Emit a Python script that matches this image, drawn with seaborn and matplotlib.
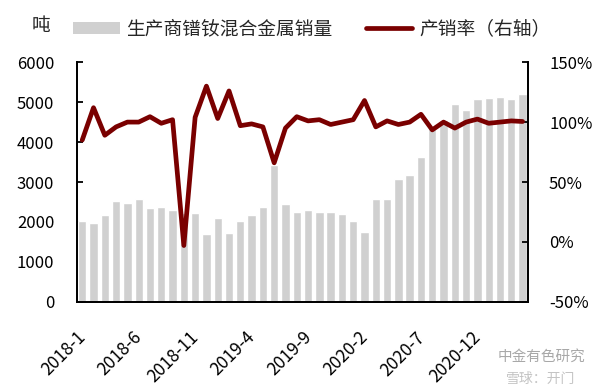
import numpy as np
import pandas as pd
import matplotlib
matplotlib.use('Agg')
import matplotlib.pyplot as plt
import matplotlib.transforms as mtransforms
import seaborn as sns
from matplotlib.patches import Patch
from matplotlib.lines import Line2D

# 月份 2018-1 ~ 2021-4
months = [f'{y}-{m}' for y in (2018, 2019, 2020, 2021) for m in range(1, 13)][:40]

# 生产商镨钕混合金属销量（吨）
sales = [2025, 1967, 2167, 2517, 2475, 2567, 2342, 2375, 2292, 2233,
         2217, 1692, 2092, 1717, 2017, 2167, 2367, 3425, 2458, 2242,
         2308, 2242, 2242, 2208, 2025, 1742, 2567, 2567, 3067, 3167,
         3633, 4350, 4550, 4942, 4792, 5067, 5092, 5117, 5067, 5192]

# 产销率（%）
ratio = [85, 112, 89, 96, 100, 100, 104.5, 99, 102, -3,
         104, 130, 103, 126, 97, 98.5, 96, 66, 95, 104.5,
         101, 102, 98, 100, 102, 118, 96, 101, 98, 100,
         106.5, 93.5, 100, 95, 100, 102.5, 99, 100, 101, 100.5]

tick_labels = ['2018-1', '2018-6', '2018-11', '2019-4', '2019-9', '2020-2', '2020-7', '2020-12']

df = pd.DataFrame({'month': months, 'sales': sales, 'ratio': ratio, 'idx': range(len(months))})

sns.set_style('white')
plt.rcParams['font.family'] = ['Noto Sans CJK SC', 'DejaVu Sans']
plt.rcParams['axes.unicode_minus'] = False

bar_color = '#d0d0d0'
line_color = '#7a0000'

fig = plt.figure(figsize=(6.03, 3.91), dpi=100)
ax = fig.add_axes([0.127, 0.228, 0.749, 0.613])

sns.barplot(data=df, x='month', y='sales', color=bar_color, width=0.74,
            saturation=1, ax=ax)
ax2 = ax.twinx()
sns.lineplot(data=df, x='idx', y='ratio', color=line_color, linewidth=3.4,
             ax=ax2)
ax2.lines[0].set_solid_joinstyle('round')
ax2.lines[0].set_solid_capstyle('round')

ax.set_xlim(-0.5, len(months) - 0.5)
ax.set_ylim(0, 6000)
ax.set_yticks(range(0, 6001, 1000))
ax2.set_ylim(-50, 150)
ax2.set_yticks(range(-50, 151, 50))
ax2.set_yticklabels([f'{v}%' for v in range(-50, 151, 50)])

pos = [i * 5 - 0.5 for i in range(len(tick_labels))] + [len(months) - 0.5]
ax.set_xticks(pos)
ax.set_xticklabels(tick_labels + [''], rotation=45, ha='right', va='top',
                   rotation_mode='anchor', fontsize=12.5)
shift = mtransforms.ScaledTranslation(10 / 100, 0, fig.dpi_scale_trans)
for lab in ax.get_xticklabels():
    lab.set_transform(lab.get_transform() + shift)

ax.set_xlabel('')
ax.set_ylabel('')
ax2.set_xlabel('')
ax2.set_ylabel('')

for a in (ax, ax2):
    a.spines['top'].set_visible(False)
    for s in ('left', 'right', 'bottom'):
        a.spines[s].set_color('black')
        a.spines[s].set_linewidth(1.3)
    a.grid(False)

ax.tick_params(axis='y', direction='in', length=4.5, width=1.3, labelsize=12,
               colors='black', pad=16)
ax.tick_params(axis='x', direction='out', length=5, width=1.3, colors='black',
               pad=14)
ax2.tick_params(axis='y', direction='in', length=4.5, width=1.3, labelsize=12,
                colors='black', pad=15)

fig.text(41 / 603, 1 - 25 / 391, '吨', fontsize=13.5, ha='center', va='center')

handles = [Patch(facecolor=bar_color, edgecolor='none'),
           Line2D([0], [0], color=line_color, linewidth=3.4)]
fig.legend(handles, ['生产商镨钕混合金属销量', '产销率（右轴）'], ncol=2,
           loc='center left', bbox_to_anchor=(73 / 603, 1 - 29 / 391),
           frameon=False, borderpad=0, borderaxespad=0, fontsize=13.5,
           handlelength=2.5, handleheight=0.64, columnspacing=1.75,
           handletextpad=0.35)

# 水印
fig.text(585 / 603, 1 - 357 / 391, '中金有色研究', fontsize=10.5, color='#a8a8a8',
         ha='right', va='center')
fig.text(575 / 603, 1 - 379 / 391, '雪球：开门', fontsize=10, color='#c4c4c4',
         ha='right', va='center')

fig.savefig('out.png', dpi=100)
